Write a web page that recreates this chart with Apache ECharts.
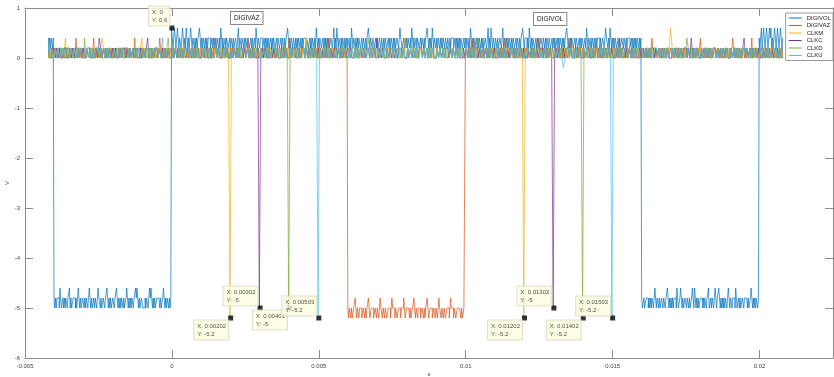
<!DOCTYPE html>
<html>
<head>
<meta charset="utf-8">
<script src="https://cdn.jsdelivr.net/npm/echarts@6/dist/echarts.min.js"></script>
<style>
html, body { margin: 0; padding: 0; background: #fff; }
#main { width: 834px; height: 377px; }
</style>
</head>
<body>
<div id="main"></div>
<script>
// sampled signals, one char per sample, starting at t0
var t0 = -0.0042;
var levels = { "0": 0, "1": 0.2, "2": 0.4, "3": 0.6, "n": -0.2, "a": -5.2, "b": -5, "c": -4.8, "d": -4.6 };

var seriesNames = ["DIGIVOL", "DIGIVAZ", "CLKM", "CLKC", "CLKD", "CLKU"];
var seriesColors = ["#0072BD", "#D95319", "#EDB120", "#7E2F8E", "#77AC30", "#4DBEEE"];
var seriesDt = [0.000025, 0.000025, 0.00005, 0.00005, 0.00005, 0.00005];

var digivol = [
  "21212212cb cbcccbdcbb cbcbccbccd bcbbcccbcb cdcbcbbccb",
  "cbccbcdcbc bbcbccbcdc cbcbbccbcc dcbcbcbbcc bccdcbcbcb",
  "ccbcbbcdcb cbcbccbccd cdcbcbbccb bbcbccbcdc dcbcbcbbcc",
  "ccbcbbcdcb cbccbcbc32 1232123212 2123212132 1212321221",
  "2121223212 1221212122 2112121221 2212132121 1212211212",
  "2121122123 1221221212 2122112121 1213212212 2211212121",
  "2112121221 1212211212 2121223212 1221221212 1221212122",
  "2122112121 2212132121 2211212121 2121122123 1213212212",
  "1221212122 1213212212 1212211212 2121223212 2122112121",
  "1221221212 2112121221 2121122123 2211212121 2212132121",
  "1212211212 2121223212 1213212212 1221212122 1221221212",
  "2211212121 2122112121 2212132121 2112121221 2121122123",
  "1213212212 2121122123 1221212122 1212211212 2121223212",
  "2212132121 2211212121 1221221212 2122112121 2112121221",
  "2121223212 1212211212 2112121221 1213212212 1221212122",
  "2121122123 2212132121 2122112121 1221221212 2211212121",
  "21221212cb bcbbcccbcb cbccbcdcbc cbcbbccbcc bccdcbcbcb",
  "cbcccbdcbb cdcbcbbccb ccbcbbcdcb dcbcbcbbcc cbcbccbccd",
  "bbcbccbcdc bccdcbcbcb cbccbcdcbc cbcccbdcbb cbcbbccbcc",
  "ccbcbbcdcb cbcbccbc21 2312321232 1232312123 2123212321",
  "2"
];
var digivaz = [
  "0110100101 1001011010 0101101001 1010010120 0110101001",
  "1001100110 0121010010 1010011010 0110100101 0101101001",
  "1001011010 1010010120 1001100110 1010011010 0110101001",
  "0121010010 0110100101 0101101001 1001011010 1001100110",
  "1010011010 0110101001 1010010120 0110100101 1001011010",
  "0101101001 1001100110 0121010010 0110101001 1010011010",
  "0110100101 1001011010 1010010120 0101101001 1001100110",
  "0110101001 1010011010 0110100101 0121010010 1001011010",
  "10100110ba bbabaabbcb abbabbbaab bababbcbaa bbbaabbabb",
  "abcbbabbab baabbbabcb bbabbaabbb abbbcbaabb bbabaabbcb",
  "abbabbbaab bababbcbaa bbbaabbabb abcbbabbab baabbbabcb",
  "bbabbaabbb bbabaabb01 1010010120 0110100101 1001011010",
  "1001100110 0101101001 0121010010 0110101001 1010011010",
  "0110100101 1010010120 1001011010 1001100110 0101101001",
  "0110101001 0121010010 1010011010 1001011010 0110100101",
  "0101101001 1001100110 1010010120 1010011010 0110101001",
  "1001011010 0110100101 0121010010 0101101001 1001100110",
  "1010011010 0110101001 0110100101 1010010120 1001011010",
  "1001100110 0101101001 1010011010 0121010010 0110100101",
  "1010010120 1001011010 0110101001 1001100110 0101101001",
  "0"
];
var clkm = [
  "0101010101 1020101010 0101010101 1010101210 0101010101",
  "1010101010 0101201010 1010101010 0101010101 1010101010",
  "0101010101 1010101010 0101a10101 1010101010 0101010101",
  "1010101010 0101010101 1010102010 0101010101 1010101010",
  "0101010101 1010101010 0101010101 1010101010 0102010101",
  "1010101010 0101010101 1010101010 0101010101 1010101010",
  "0101010101 1010101010 0101a10101 1010101010 0101010101",
  "1010101010 0101010101 1010101010 0101010101 1010101010",
  "0101010101 1010101010 0101310101 1010101010 0101010101",
  "1010101010 0101010101 1010101010 0101010101 1010101010",
  "0"
];
var clkc = [
  "1001101010 0110010101 1010100110 0101021010 1010101001",
  "0110101010 1001010120 0101101010 1010010101 0101101010",
  "1010010110 0101101001 1010010101 0110101010 1001b01010",
  "0110101001 1010010110 0101101010 1010100101 0101011010",
  "1010101001 0101010110 1010201010 0101010101 1010010101",
  "0101101010 1010010101 0110101010 1001010101 0110101010",
  "1010100101 0101011010 1010100101 0101011010 1010b01010",
  "0101101001 1010010110 0101101010 1010100101 0110101010",
  "1001010101 0110101010 1010010101 0101101020 1010010101",
  "0101101010 1010010101 0101201010 1010100101 0101011010",
  "1"
];
var clkd = [
  "0110010110 1001101001 0110020110 1001101001 0110010110",
  "1001101001 0110010110 1001101001 0120010110 1001101001",
  "0110010110 1001101001 0110010110 1001101001 0110010110",
  "1001101001 0110b10110 1001101001 0110010110 1001101001",
  "0110010110 1001101021 0110010110 1001101001 0110010110",
  "1001101001 0110010110 1001101001 0110010110 1002101001",
  "0110010110 1001101001 0110010110 1001101001 0110010110",
  "1001101001 0110a10110 1001101001 0110010110 1001101001",
  "0110010110 1001101001 0110010110 1001121001 0110010110",
  "1001101001 0110010110 1001101001 0110010110 1001101001",
  "0"
];
var clku = [
  "1010010101 0101101010 1010010101 0101101010 1010010101",
  "0101101010 1010010101 0101101020 1010010101 0101101010",
  "1010010101 0101101010 1010010101 0101101010 1010010101",
  "0101101010 1010010101 0101101010 1010a10101 0101101010",
  "1010010101 0101101010 1010010101 0101101010 1010010101",
  "0101101010 1010010101 0101101010 1010010101 0101101010",
  "1010010101 0101101010 1010010101 0101101010 1010010101",
  "0n01101010 1010010101 0101101010 1010a10101 0101101010",
  "1010010101 0101101010 1010010101 0101101010 1010010101",
  "0101101010 1010010101 0101101010 1010010101 0101101010",
  "1"
];
var allSignals = [digivol, digivaz, clkm, clkc, clkd, clku];

// data tips
var tipX = [0, 0.002, 0.003, 0.004, 0.005, 0.012, 0.013, 0.014, 0.015];
var tipY = [0.6, -5.2, -5, -5, -5.2, -5.2, -5, -5.2, -5.2];
var tipLabel = ["X: 0\nY: 0.6", "X: 0.00202\nY: -5.2", "X: 0.00302\nY: -5", "X: 0.00401\nY: -5",
  "X: 0.00503\nY: -5.2", "X: 0.01202\nY: -5.2", "X: 0.01302\nY: -5", "X: 0.01402\nY: -5.2", "X: 0.01503\nY: -5.2"];
var tipSide = ["up", "down", "up", "down", "up", "down", "up", "down", "up"];

function decode(lines, dt) {
  var s = lines.join("").replace(/\s/g, "");
  var out = [];
  for (var i = 0; i < s.length; i++) {
    out.push([t0 + i * dt, levels[s.charAt(i)]]);
  }
  return out;
}

var ctx = document.createElement("canvas").getContext("2d");
ctx.font = "6px 'Liberation Sans'";
function boxWidth(txt) {
  var w = 0;
  txt.split("\n").forEach(function (l) { w = Math.max(w, ctx.measureText(l).width); });
  return w + 5;
}

var chart = echarts.init(document.getElementById("main"));

var series = seriesNames.map(function (name, k) {
  return {
    name: name,
    type: "line",
    step: "middle",
    data: decode(allSignals[k], seriesDt[k]),
    showSymbol: false,
    symbol: "none",
    lineStyle: { width: 0.7, color: seriesColors[k] },
    itemStyle: { color: seriesColors[k] },
    animation: false,
    z: 2
  };
});

series.push({
  type: "scatter",
  symbol: "rect",
  symbolSize: 5,
  itemStyle: { color: "#000" },
  z: 10,
  animation: false,
  label: {
    show: true,
    fontSize: 6,
    lineHeight: 8,
    color: "#222",
    fontFamily: "Liberation Sans",
    backgroundColor: "#FFFFE1",
    borderColor: "#D8D8C4",
    borderWidth: 1,
    padding: [2, 2, 1, 3]
  },
  data: tipX.map(function (x, i) {
    var up = tipSide[i] === "up";
    var w = boxWidth(tipLabel[i]);
    return {
      value: [x, tipY[i]],
      label: {
        formatter: tipLabel[i],
        position: up ? [-w, 0] : [-w, 5],
        align: "left",
        verticalAlign: up ? "bottom" : "top"
      }
    };
  })
});

var axisCol = "#8c8c8c";
var textCol = "#444";

var option = {
  animation: false,
  backgroundColor: "#fff",
  textStyle: { fontFamily: "Liberation Sans" },
  grid: { left: 25, right: 1, top: 8, bottom: 19, outerBoundsMode: "none", containLabel: false },
  legend: {
    data: seriesNames,
    orient: "vertical",
    right: 1,
    top: 13,
    icon: "rect",
    itemWidth: 13,
    itemHeight: 1,
    itemGap: 1.5,
    padding: [2, 2, 2, 3],
    backgroundColor: "#fff",
    borderColor: "#999",
    borderWidth: 1,
    textStyle: { fontSize: 6, color: "#222", lineHeight: 6 }
  },
  xAxis: [{
    type: "value",
    min: -0.005,
    max: 0.0225,
    interval: 0.005,
    name: "s",
    nameLocation: "middle",
    nameGap: 13,
    nameMoveOverlap: false,
    nameTextStyle: { fontSize: 6, color: textCol },
    axisLine: { show: true, onZero: false, lineStyle: { color: axisCol } },
    axisTick: { show: true, inside: true, length: 8, lineStyle: { color: axisCol } },
    axisLabel: { fontSize: 6, color: textCol, margin: 5, showMaxLabel: false },
    splitLine: { show: false }
  }, {
    type: "value",
    position: "top",
    min: -0.005,
    max: 0.0225,
    interval: 0.005,
    axisLine: { show: true, onZero: false, lineStyle: { color: axisCol } },
    axisTick: { show: true, inside: true, length: 8, lineStyle: { color: axisCol } },
    axisLabel: { show: false },
    splitLine: { show: false }
  }],
  yAxis: [{
    type: "value",
    min: -6,
    max: 1,
    interval: 1,
    name: "V",
    nameLocation: "middle",
    nameGap: 15,
    nameMoveOverlap: false,
    nameTextStyle: { fontSize: 6, color: textCol },
    axisLine: { show: true, onZero: false, lineStyle: { color: axisCol } },
    axisTick: { show: true, inside: true, length: 8, lineStyle: { color: axisCol } },
    axisLabel: { fontSize: 6, color: textCol, margin: 5 },
    splitLine: { show: false }
  }, {
    type: "value",
    position: "right",
    min: -6,
    max: 1,
    interval: 1,
    axisLine: { show: true, onZero: false, lineStyle: { color: axisCol } },
    axisTick: { show: true, inside: true, length: 8, lineStyle: { color: axisCol } },
    axisLabel: { show: false },
    splitLine: { show: false }
  }],
  graphic: [{
    type: "text",
    left: 230,
    top: 11,
    style: {
      text: "DIGIVAZ",
      fontSize: 6.5,
      fontFamily: "Liberation Sans",
      fill: "#222",
      backgroundColor: "#fff",
      borderColor: "#888",
      borderWidth: 1,
      padding: [3, 3, 2, 3]
    },
    z: 20
  }, {
    type: "text",
    left: 533,
    top: 12,
    style: {
      text: "DIGIVOL",
      fontSize: 6.5,
      fontFamily: "Liberation Sans",
      fill: "#222",
      backgroundColor: "#fff",
      borderColor: "#888",
      borderWidth: 1,
      padding: [3, 3, 2, 3]
    },
    z: 20
  }],
  series: series
};

chart.setOption(option);
</script>
</body>
</html>
